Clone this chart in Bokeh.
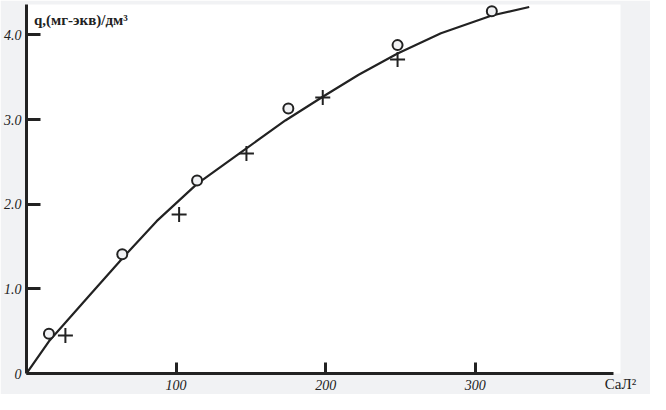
from bokeh.plotting import figure
from bokeh.models import Range1d, Label, FixedTicker
from bokeh.embed import file_html
from bokeh.resources import INLINE

# data
circle_x = [15, 64, 114, 175, 248, 311]
circle_y = [0.47, 1.41, 2.28, 3.13, 3.88, 4.28]
cross_x = [26, 102, 147, 198, 248]
cross_y = [0.45, 1.88, 2.60, 3.26, 3.71]
curve_x = [0, 15, 41, 64, 87, 114, 147, 173, 198, 222, 248, 277, 311, 336]
curve_y = [0, 0.38, 0.90, 1.36, 1.80, 2.24, 2.66, 2.99, 3.27, 3.53, 3.78, 4.02, 4.23, 4.33]
x_ticks = [100, 200, 300]
y_ticks = [1, 2, 3, 4]
y_tick_labels = {0: "0", 1: "1.0", 2: "2.0", 3: "3.0", 4: "4.0"}
x_axis_end = 392
y_axis_end = 4.36

INK = "#222222"
BG = "#f1f2f4"

p = figure(width=650, height=394, output_backend="svg", toolbar_location=None,
           x_range=Range1d(0, 397), y_range=Range1d(0, y_axis_end),
           min_border_left=0, min_border_top=4, min_border_right=30, min_border_bottom=0,
           background_fill_color=None, border_fill_color=BG)
p.outline_line_color = None
p.grid.visible = False

for ax in (p.xaxis, p.yaxis):
    ax.axis_line_color = INK
    ax.axis_line_width = 3
    ax.major_tick_line_color = INK
    ax.major_tick_line_width = 3
    ax.minor_tick_line_color = None
    ax.major_tick_out = 0
    ax.major_label_text_font = "Liberation Serif"
    ax.major_label_text_font_style = "italic"
    ax.major_label_text_font_size = "14px"
    ax.major_label_text_color = INK

p.xaxis.ticker = FixedTicker(ticks=x_ticks)
p.xaxis.bounds = (0, x_axis_end)
p.xaxis.major_tick_in = 11
p.xaxis.major_label_standoff = 6
p.xaxis.axis_label = "СаЛ²"
p.xaxis.axis_label_align = "end"
p.xaxis.axis_label_standoff = -17
p.xaxis.axis_label_text_font = "Liberation Serif"
p.xaxis.axis_label_text_font_style = "normal"
p.xaxis.axis_label_text_font_size = "15px"
p.xaxis.axis_label_text_color = INK
p.yaxis.ticker = FixedTicker(ticks=[0] + y_ticks)
p.yaxis.major_tick_in = 14
p.yaxis.major_label_overrides = y_tick_labels
p.yaxis.major_label_standoff = 5

p.line(curve_x, curve_y, line_color=INK, line_width=2.2)
p.scatter(circle_x, circle_y, marker="circle", size=10, fill_color=BG,
          line_color=INK, line_width=2)
p.scatter(cross_x, cross_y, marker="cross", size=15, line_color=INK, line_width=2)

p.add_layout(Label(x=5, y=4.08, text="q,(мг-экв)/дм³", text_font="Liberation Serif",
                   text_font_style="bold", text_font_size="15px", text_color=INK))

open("out.html", "w").write(file_html(p, INLINE))
